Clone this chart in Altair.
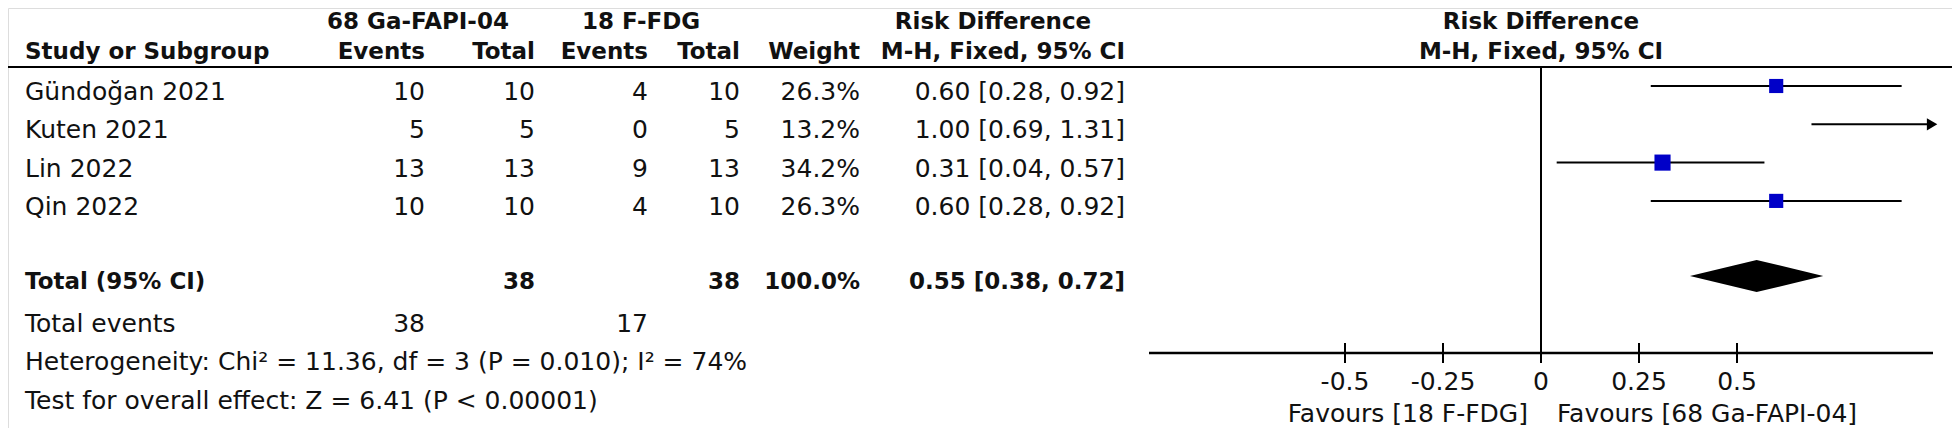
import altair as alt
import pandas as pd

# ---------------- data ----------------
studies = ["Gündoğan 2021", "Kuten 2021", "Lin 2022", "Qin 2022"]
exp_events = [10, 5, 13, 10]
exp_total = [10, 5, 13, 10]
ctl_events = [4, 0, 9, 4]
ctl_total = [10, 5, 13, 10]
weights = [26.3, 13.2, 34.2, 26.3]
rd = [0.60, 1.00, 0.31, 0.60]
ci_lo = [0.28, 0.69, 0.04, 0.28]
ci_hi = [0.92, 1.31, 0.57, 0.92]

total_label = "Total (95% CI)"
total_exp = 38
total_ctl = 38
total_weight = 100.0
total_rd = 0.55
total_lo = 0.38
total_hi = 0.72
total_events_exp = 38
total_events_ctl = 17
heterogeneity = "Heterogeneity: Chi² = 11.36, df = 3 (P = 0.010); I² = 74%"
overall = "Test for overall effect: Z = 6.41 (P < 0.00001)"

group_exp = "68 Ga-FAPI-04"
group_ctl = "18 F-FDG"
col_headers = ["Study or Subgroup", "Events", "Total", "Events", "Total", "Weight", "M-H, Fixed, 95% CI"]
effect_title = "Risk Difference"
effect_sub = "M-H, Fixed, 95% CI"
ticks = [-0.5, -0.25, 0, 0.25, 0.5]
tick_labels = ["-0.5", "-0.25", "0", "0.25", "0.5"]
favours_left = "Favours [18 F-FDG]"
favours_right = "Favours [68 Ga-FAPI-04]"
axis_min, axis_max = -1.0, 1.0

# ---------------- layout ----------------
W, H = 1944, 420
FONT = "DejaVu Sans"
FS = 25
FS_B = 23
UNIT = 392.0
ZERO_PX = 1533.0
XS = alt.Scale(domain=[-ZERO_PX / UNIT, (W - ZERO_PX) / UNIT], nice=False, zero=False)
ROW = 38.3
TOP = 78.0
YS = alt.Scale(domain=[-TOP / ROW, (H - TOP) / ROW], nice=False, zero=False, reverse=True)
TDY = 0.16  # text offset below marker line

K_H1 = -1.66
K_H2 = -0.888
K_LINE = -0.496
K_TOTAL = 4.96
K_EVENTS = 6.05
K_HET = 7.05
K_TEST = 8.07
K_AXIS = 6.97
K_TICKLAB = 7.73
K_FAV = 8.57

COL = {"study": 17, "ee": 417, "et": 527, "ce": 640, "ct": 732, "w": 852, "ci": 1117}
TEXT_COLOR = "#111111"


def Yk(f="k"):
    return alt.Y(f + ":Q", scale=YS, axis=None)


def Xv(f="x"):
    return alt.X(f + ":Q", scale=XS, axis=None)


def txt(df, xpx, align="right", bold=False, size=None):
    return alt.Chart(df).mark_text(
        align=align, baseline="middle", font=FONT,
        fontSize=size or (FS_B if bold else FS),
        fontWeight="bold" if bold else "normal", color=TEXT_COLOR
    ).encode(x=alt.value(xpx), y=Yk(), text="t:N")


layers = []

# headers
layers.append(txt(pd.DataFrame({"t": [group_exp], "k": [K_H1]}), 410, "center", True))
layers.append(txt(pd.DataFrame({"t": [group_ctl], "k": [K_H1]}), 633, "center", True))
layers.append(txt(pd.DataFrame({"t": [effect_title], "k": [K_H1]}), 985, "center", True))
hdr_cols = ["study", "ee", "et", "ce", "ct", "w", "ci"]
for name, key in zip(col_headers, hdr_cols):
    layers.append(txt(pd.DataFrame({"t": [name], "k": [K_H2]}), COL[key],
                      "left" if key == "study" else "right", True))
# right-hand header
layers.append(alt.Chart(pd.DataFrame({"t": [effect_title, effect_sub], "k": [K_H1, K_H2], "x": [0, 0]}))
              .mark_text(align="center", baseline="middle", font=FONT, fontSize=FS_B,
                         fontWeight="bold", color=TEXT_COLOR)
              .encode(x=Xv(), y=Yk(), text="t:N"))

# underline
layers.append(alt.Chart(pd.DataFrame({"k": [K_LINE]})).mark_rule(color="black", strokeWidth=2)
              .encode(x=alt.value(-5), x2=alt.value(W + 2), y=Yk()))

# study rows
rows_k = [i + TDY for i in range(len(studies))]
cols = {
    "study": studies,
    "ee": [str(v) for v in exp_events],
    "et": [str(v) for v in exp_total],
    "ce": [str(v) for v in ctl_events],
    "ct": [str(v) for v in ctl_total],
    "w": [f"{v:.1f}%" for v in weights],
    "ci": [f"{r:.2f} [{a:.2f}, {b:.2f}]" for r, a, b in zip(rd, ci_lo, ci_hi)],
}
for key, vals in cols.items():
    layers.append(txt(pd.DataFrame({"t": vals, "k": rows_k}), COL[key],
                      "left" if key == "study" else "right"))

# total row
tk = K_TOTAL + TDY
layers.append(txt(pd.DataFrame({"t": [total_label], "k": [tk]}), COL["study"], "left", True))
layers.append(txt(pd.DataFrame({"t": [str(total_exp)], "k": [tk]}), COL["et"], "right", True))
layers.append(txt(pd.DataFrame({"t": [str(total_ctl)], "k": [tk]}), COL["ct"], "right", True))
layers.append(txt(pd.DataFrame({"t": [f"{total_weight:.1f}%"], "k": [tk]}), COL["w"], "right", True))
layers.append(txt(pd.DataFrame({"t": [f"{total_rd:.2f} [{total_lo:.2f}, {total_hi:.2f}]"], "k": [tk]}),
                  COL["ci"], "right", True))

# footer rows
layers.append(txt(pd.DataFrame({"t": ["Total events"], "k": [K_EVENTS + TDY]}), COL["study"], "left"))
layers.append(txt(pd.DataFrame({"t": [str(total_events_exp)], "k": [K_EVENTS + TDY]}), COL["ee"], "right"))
layers.append(txt(pd.DataFrame({"t": [str(total_events_ctl)], "k": [K_EVENTS + TDY]}), COL["ce"], "right"))
layers.append(txt(pd.DataFrame({"t": [heterogeneity], "k": [K_HET + TDY]}), COL["study"], "left"))
layers.append(txt(pd.DataFrame({"t": [overall], "k": [K_TEST + TDY]}), COL["study"], "left"))

# zero line
layers.append(alt.Chart(pd.DataFrame({"x": [0], "k": [K_LINE], "k2": [K_AXIS]}))
              .mark_rule(color="black", strokeWidth=2)
              .encode(x=Xv(), y=Yk(), y2="k2:Q"))

# forest data
forest = pd.DataFrame({
    "k": list(range(len(studies))),
    "x": rd,
    "lo": [max(v, axis_min) for v in ci_lo],
    "hi": [min(v, axis_max) for v in ci_hi],
    "w": weights,
})
inside = forest[(forest["x"] > axis_min) & (forest["x"] < axis_max)]
layers.append(alt.Chart(forest).mark_rule(color="black", strokeWidth=2)
              .encode(x=Xv("lo"), x2="hi:Q", y=Yk()))
layers.append(alt.Chart(inside).mark_square(color="#0000C8", opacity=1, filled=True)
              .encode(x=Xv(), y=Yk(),
                      size=alt.Size("w:Q", scale=alt.Scale(domain=[0, 100], range=[0, 760]), legend=None)))
arrows = pd.DataFrame({"k": [i for i, v in enumerate(ci_hi) if v > axis_max],
                       "x": [axis_max for v in ci_hi if v > axis_max]})
layers.append(alt.Chart(arrows).mark_point(shape="M -1 -1 L 0.7 0 L -1 1 Z", filled=True,
                                           color="black", opacity=1, size=150)
              .encode(x=Xv(), y=Yk()))

# diamond
dia = pd.DataFrame({"x": [total_lo, total_rd, total_hi],
                    "k": [K_TOTAL, K_TOTAL - 0.42, K_TOTAL],
                    "k2": [K_TOTAL, K_TOTAL + 0.42, K_TOTAL]})
layers.append(alt.Chart(dia).mark_area(color="black", orient="vertical", opacity=1)
              .encode(x=Xv(), y=Yk(), y2="k2:Q"))

# axis
layers.append(alt.Chart(pd.DataFrame({"x": [axis_min], "x2": [axis_max], "k": [K_AXIS]}))
              .mark_rule(color="black", strokeWidth=2.5)
              .encode(x=Xv(), x2="x2:Q", y=Yk()))
tk_df = pd.DataFrame({"x": ticks, "t": tick_labels, "k": [K_AXIS - 0.26] * len(ticks),
                      "k2": [K_AXIS + 0.26] * len(ticks), "kl": [K_TICKLAB] * len(ticks)})
layers.append(alt.Chart(tk_df).mark_rule(color="black", strokeWidth=2)
              .encode(x=Xv(), y=Yk(), y2="k2:Q"))
layers.append(alt.Chart(tk_df).mark_text(align="center", baseline="middle", font=FONT, fontSize=FS,
                                         color=TEXT_COLOR)
              .encode(x=Xv(), y=Yk("kl"), text="t:N"))
fav = pd.DataFrame({"x": [0, 0], "k": [K_FAV, K_FAV], "t": [favours_left, favours_right]})
layers.append(alt.Chart(fav.iloc[[0]]).mark_text(align="right", baseline="middle", font=FONT, fontSize=FS,
                                                 color=TEXT_COLOR, dx=-13)
              .encode(x=Xv(), y=Yk(), text="t:N"))
layers.append(alt.Chart(fav.iloc[[1]]).mark_text(align="left", baseline="middle", font=FONT, fontSize=FS,
                                                 color=TEXT_COLOR, dx=16)
              .encode(x=Xv(), y=Yk(), text="t:N"))

chart = alt.layer(*layers).properties(
    width=W, height=H, padding=0, autosize=alt.AutoSizeParams(type="none")
).configure_view(stroke=None).configure(background="white")

chart.save("out.html", embed_options={"renderer": "svg", "actions": False})
